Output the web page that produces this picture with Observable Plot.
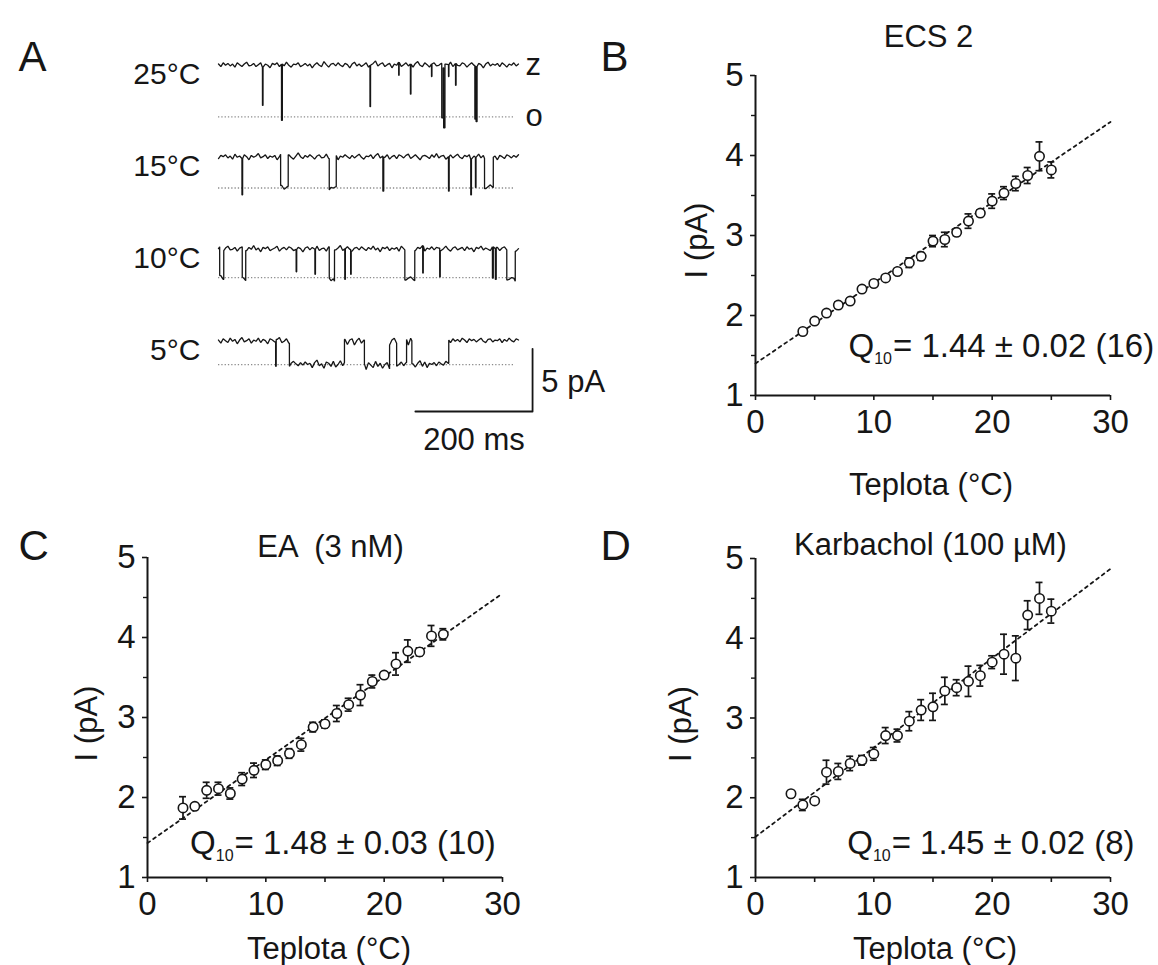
<!DOCTYPE html>
<html><head><meta charset="utf-8">
<script src="https://cdn.jsdelivr.net/npm/d3@7"></script>
<script src="https://cdn.jsdelivr.net/npm/@observablehq/plot@0.6"></script>
<style>
body{margin:0;background:#fff;}
#fig{position:relative;width:1158px;height:965px;overflow:hidden;background:#fff;}
#fig > div{position:absolute;}
</style></head><body><div id="fig">
<div id="pA" style="left:0;top:0;width:580px;height:480px"></div>
<div id="pB" style="left:590px;top:0;width:568px;height:500px"></div>
<div id="pC" style="left:0;top:480px;width:580px;height:485px"></div>
<div id="pD" style="left:590px;top:480px;width:568px;height:485px"></div>
</div>
<script>
// ---------------- DATA ----------------
// Panel A: single-channel traces (pA relative to closed level; negative = open)
const traceLabels = ["25°C", "15°C", "10°C", "5°C"];
const openLevel = [-4.12, -2.45, -2.26, -1.86];
const sampleMs = 4;
const traceMs = 512;
// events: [start ms, end ms, level pA]
const events25 = [[75,76,-3.2],[107.5,109,-4.4],[258.5,259.5,-3.3],[307.5,308.3,-0.8],[327.5,328.5,-2.3],[363.5,364.3,-0.9],[381,383.5,-4.2],[384.2,386.5,-5.0],[392.5,393.3,-0.9],[404.5,405.5,-1.6],[437.5,439,-4.3],[439.6,441.3,-4.5]];
const events15 = [[40,41.2,-3.0],[106,119,-2.5],[189,201,-2.5],[280.5,282,-2.7],[392.5,393.7,-2.7],[430.5,431.7,-3.0],[438.5,439.5,-2.4],[454,469,-2.4]];
const events10 = [[2,9,-2.3],[40.5,46.5,-2.4],[132.5,133.5,-1.8],[164.5,165.5,-2.0],[189,198,-2.5],[215.5,216.5,-2.4],[225.5,226.5,-2.0],[318,335,-2.4],[348.5,349.5,-1.9],[377.5,378.5,-2.2],[467.5,469,-2.3],[472.5,474,-2.4],[492,506.5,-2.4]];
const events5 = [[97.5,98.5,-2.0],[121,215,-1.85],[249,292,-1.9],[304,321,-1.85],[330,393,-1.85]];
// recording noise (pA, every 4 ms)
const noise25 = [0.1,-0.1,0.2,0,0.15,-0.05,0.1,-0.15,0.2,0.05,
 -0.1,0.1,0.25,-0.05,0,0.15,-0.1,0.05,0.2,-0.15,
 0.1,0,-0.2,0.15,0.05,0.2,-0.1,0.1,-0.05,0.25,
 0,-0.15,0.1,0.05,0.2,-0.1,0,0.15,-0.05,0.1,
 -0.2,0.05,0.2,0,-0.1,0.3,0.05,-0.15,0.1,0.15,
 -0.05,0.2,0,-0.1,0.15,0.05,-0.2,0.1,0.25,-0.05,
 0.1,-0.1,0.05,0.2,-0.15,0,0.15,0.35,-0.05,0.1,
 0.2,-0.1,0.05,0.15,-0.2,0.1,0,0.25,-0.1,0.05,
 0.2,-0.05,0.1,-0.15,0.15,0.3,0,-0.1,0.2,0.05,
 -0.15,0.1,0.2,-0.05,0,0.15,-0.2,0.1,0.05,0.25,
 -0.1,0.15,0,-0.05,0.2,0.1,-0.15,0.05,0.2,0,
 -0.1,0.15,0.05,-0.2,0.1,0.25,-0.05,0.1,0,0.15,
 -0.1,0.2,0.05,-0.15,0.1,0,0.2,-0.05,0.1];
const noise15 = [-0.1,0.15,0.05,0.2,-0.05,0.1,-0.15,0.25,0,0.1,
 -0.1,0.2,0.05,-0.2,0.15,0,0.1,0.3,-0.05,0.05,
 0.2,-0.1,0.1,0,0.15,-0.2,0.05,0.25,-0.05,0.1,
 0.2,0,-0.15,0.1,0.35,0.05,-0.1,0.15,0,0.2,
 0.05,-0.15,0.1,0.2,-0.05,0,0.25,-0.1,0.1,0.05,
 0.15,-0.2,0.1,0,0.2,0.05,-0.1,0.15,-0.05,0.1,
 0.25,0,-0.15,0.1,0.05,0.2,-0.1,0.15,0.3,-0.05,
 0.1,0,0.2,-0.15,0.05,0.15,-0.1,0.2,0.1,-0.05,
 0.15,0.25,-0.1,0.05,0.2,0,-0.2,0.1,0.15,0.05,
 -0.1,0.2,0,0.3,-0.05,0.1,0.15,-0.15,0.05,0.2,
 -0.05,0.1,0.25,0,-0.1,0.15,0.05,0.2,-0.15,0.1,
 0,0.25,-0.05,0.15,-0.1,0.05,0.2,0,0.1,-0.2,
 0.15,0.05,-0.1,0.2,0.1,-0.05,0.15,0,0.2];
const noise10 = [0.05,0.2,-0.1,0.1,0.25,-0.05,0,0.15,-0.15,0.1,
 0.2,0.05,-0.1,0.15,0,0.3,-0.05,0.1,-0.2,0.15,
 0.05,0.2,-0.1,0,0.1,0.25,-0.15,0.05,0.15,-0.05,
 0.2,0.1,-0.1,0,0.15,0.05,-0.2,0.1,0.2,-0.05,
 0.15,0,0.25,-0.1,0.05,0.1,-0.15,0.2,0,0.15,
 -0.05,0.1,0.3,-0.1,0.05,0.2,0,-0.15,0.1,0.15,
 -0.05,0.2,0.05,-0.1,0.15,0,0.25,-0.05,0.1,-0.2,
 0.15,0.05,0.2,-0.1,0.1,0,0.15,-0.15,0.25,0.05,
 -0.05,0.1,0.2,0,-0.1,0.15,0.05,0.3,-0.15,0.1,
 0,0.2,-0.05,0.15,0.1,-0.1,0.05,0.25,0,-0.15,
 0.1,0.2,-0.05,0.05,0.15,-0.1,0.2,0,0.1,-0.2,
 0.15,0.05,0.25,-0.05,0.1,0,-0.1,0.2,0.05,0.15,
 -0.1,0.1,0.2,-0.05,0,0.15,0.1,-0.15,0.05];
const noise5 = [0.1,-0.15,0.2,0.05,-0.1,0.25,0,0.15,-0.2,0.1,
 0.3,-0.05,0.05,0.2,-0.15,0.1,0,0.25,-0.1,0.15,
 0.05,-0.2,0.2,0.1,-0.05,0.15,0.3,-0.1,0,0.2,
 -0.15,0.1,0.25,0.05,-0.1,0.15,-0.05,0.2,0,0.1,
 -0.25,0.15,0.35,-0.1,0.05,-0.3,0.2,0.1,-0.15,0.25,
 -0.2,0,0.3,-0.1,0.15,-0.25,0.1,0.2,-0.3,0.05,
 0.25,-0.15,0.1,-0.35,0.2,0,-0.2,0.3,-0.1,0.15,
 -0.25,0.05,0.2,-0.3,0.1,0.25,-0.15,0,0.2,-0.1,
 0.15,-0.3,0.25,0.05,-0.2,0.1,0.3,-0.15,0.2,-0.25,
 0.1,0,0.15,-0.1,0.2,0.05,-0.05,0.25,0.1,-0.1,
 0.2,0,0.15,-0.05,0.25,0.1,-0.1,0.2,0.05,0.15,
 -0.05,0.1,0.25,0,-0.1,0.15,0.2,-0.05,0.1,0.05,
 0.2,-0.1,0.15,0,0.25,0.05,-0.05,0.2,0.1];
const scaleBarMs = 200, scaleBarPa = 5;

// Panels B–D: temperature (°C), current (pA), SEM (pA)
const tempsB = [4,5,6,7,8,9,10,11,12,13,14,15,16,17,18,19,20,21,22,23,24,25];
const currentB = [1.80,1.93,2.03,2.13,2.18,2.33,2.40,2.47,2.55,2.66,2.74,2.93,2.95,3.04,3.18,3.28,3.43,3.53,3.65,3.75,3.99,3.82];
const semB = [0.03,0.03,0.03,0.04,0.03,0.03,0.03,0.03,0.03,0.06,0.05,0.07,0.09,0.04,0.09,0.04,0.09,0.08,0.09,0.10,0.18,0.10];
const tempsC = [3,4,5,6,7,8,9,10,11,12,13,14,15,16,17,18,19,20,21,22,23,24,25];
const currentC = [1.87,1.89,2.09,2.11,2.05,2.23,2.34,2.41,2.46,2.55,2.66,2.88,2.92,3.05,3.16,3.28,3.45,3.53,3.67,3.83,3.82,4.02,4.04];
const semC = [0.14,0.03,0.10,0.08,0.07,0.08,0.09,0.06,0.06,0.06,0.08,0.06,0.05,0.10,0.08,0.13,0.08,0.03,0.14,0.14,0.05,0.13,0.07];
const tempsD = [3,4,5,6,7,8,9,10,11,12,13,14,15,16,17,18,19,20,21,22,23,24,25];
const currentD = [2.05,1.91,1.96,2.32,2.33,2.43,2.47,2.55,2.78,2.78,2.96,3.10,3.14,3.34,3.38,3.46,3.53,3.70,3.80,3.75,4.29,4.50,4.34];
const semD = [0.02,0.07,0.03,0.15,0.10,0.09,0.06,0.08,0.10,0.08,0.12,0.13,0.17,0.17,0.10,0.19,0.13,0.08,0.25,0.28,0.18,0.20,0.15];
// linear fits (dotted), evaluated at 0 and 30 °C
const fitTemps = [0, 30];
const fitB = [1.40, 4.42];
const fitC = [1.43, 4.55];
const fitD = [1.51, 4.87];
const titles = ["ECS 2", "EA  (3 nM)", "Karbachol (100 µM)"];
const q10Texts = ["Q10= 1.44 ± 0.02 (16)", "Q10= 1.48 ± 0.03 (10)", "Q10= 1.45 ± 0.02 (8)"];
const yTicks = [1, 2, 3, 4, 5], yMinor = [1.5, 2.5, 3.5, 4.5];
const xTicks = [0, 10, 20, 30], xMinor = [5, 15, 25];

// ---------------- DRAW ----------------
const FONT = '"Liberation Sans", Arial, Helvetica, sans-serif';
const INK = "#161616";

function buildTrace(label, noise, events) {
  const pts = [];
  noise.forEach((n, i) => {
    const t = i * sampleMs;
    if (events.some(([a, b]) => Math.abs(t - a) < 0.6 || Math.abs(t - b) < 0.6)) return;
    const ev = events.find(([a, b]) => t >= a && t <= b);
    pts.push({label, t, v: (ev ? ev[2] : 0) + n});
  });
  const nz = t => noise[Math.min(noise.length - 1, Math.round(t / sampleMs))];
  for (const [a, b, l] of events) {
    const brief = b - a < sampleMs;
    pts.push({label, t: a, v: nz(a)}, {label, t: a + 0.05, v: brief ? l : l + nz(a)},
             {label, t: b - 0.05, v: brief ? l : l + nz(b)}, {label, t: b, v: nz(b)});
  }
  return pts.sort((p, q) => p.t - q.t);
}
const tracePts = [
  ...buildTrace(traceLabels[0], noise25, events25),
  ...buildTrace(traceLabels[1], noise15, events15),
  ...buildTrace(traceLabels[2], noise10, events10),
  ...buildTrace(traceLabels[3], noise5, events5)
];
const openRows = traceLabels.map((label, i) => ({label, open: openLevel[i]}));
const barEndMs = 536, barBottom = -5.6;
const barPts = [
  {label: "5°C", t: barEndMs - scaleBarMs, v: barBottom},
  {label: "5°C", t: barEndMs, v: barBottom},
  {label: "5°C", t: barEndMs, v: barBottom + scaleBarPa}
];

const plotA = Plot.plot({
  width: 580, height: 480,
  marginLeft: 218, marginRight: 62, marginTop: 46, marginBottom: 66,
  x: {domain: [0, traceMs], axis: null},
  y: {domain: [-5.84, 1.5], axis: null},
  fy: {domain: traceLabels, padding: 0, axis: null},
  style: {fontFamily: FONT, fontSize: "31px", color: INK, background: "transparent", overflow: "visible"},
  marks: [
    Plot.ruleY(openRows, {fy: "label", y: "open", x1: 0, x2: 506, stroke: "#8c8c8c", strokeWidth: 1.3, strokeDasharray: "1.3,2"}),
    Plot.line(tracePts, {fy: "label", z: "label", x: "t", y: "v", stroke: INK, strokeWidth: 1.3, strokeLinejoin: "miter"}),
    Plot.text(traceLabels, {fy: d => d, text: d => d, x: -31, y: -0.75, textAnchor: "end", fontSize: 30, fill: INK}),
    Plot.text([{label: "25°C", s: "z", v: 0}, {label: "25°C", s: "o", v: -4.07}], {fy: "label", text: "s", x: 524, y: "v", textAnchor: "start", fontSize: 31, fill: INK}),
    Plot.line(barPts, {fy: "label", x: "t", y: "v", stroke: INK, strokeWidth: 1.8}),
    Plot.text([`${scaleBarPa} pA`], {fy: () => "5°C", x: 551, y: barBottom + 2.33, textAnchor: "start", fontSize: 31, fill: INK}),
    Plot.text([`${scaleBarMs} ms`], {fy: () => "5°C", x: barEndMs - scaleBarMs / 2, y: -7.9, fontSize: 31, fill: INK}),
    Plot.text(["A"], {fy: () => "25°C", frameAnchor: "top-left", dx: -200, dy: -5, lineAnchor: "top", textAnchor: "start", fontSize: 42, fill: INK})
  ]
});
document.getElementById("pA").appendChild(plotA);

function scatterPanel(id, cfg) {
  const rows = cfg.temps.map((t, i) => ({t, v: cfg.vals[i], e: cfg.sem[i]}));
  const fitRows = fitTemps.map((t, i) => ({t, v: cfg.fit[i]}));
  const p = Plot.plot({
    width: cfg.width, height: cfg.height,
    marginLeft: cfg.ml, marginRight: cfg.mr, marginTop: cfg.mt, marginBottom: cfg.mb,
    x: {domain: [0, 30], label: null},
    y: {domain: [1, 5], label: null},
    style: {fontFamily: FONT, fontSize: "31px", color: INK, background: "transparent", overflow: "visible"},
    marks: [
      Plot.axisY({ticks: yTicks, tickSize: 5, tickPadding: 7, tickFormat: d => String(d), fontSize: 33, label: null, strokeWidth: 1.6}),
      Plot.axisY({ticks: yMinor, tickSize: 4, tickFormat: () => "", label: null, strokeWidth: 1.4}),
      Plot.axisX({ticks: xTicks, tickSize: 5, tickPadding: 9, tickFormat: d => String(d), fontSize: 33, label: null, strokeWidth: 1.6}),
      Plot.axisX({ticks: xMinor, tickSize: 5, tickFormat: () => "", label: null, strokeWidth: 1.6}),
      Plot.ruleX([0], {y1: 1, y2: 5, stroke: INK, strokeWidth: 2}),
      Plot.ruleY([1], {x1: 0, x2: 30, stroke: INK, strokeWidth: 2}),
      Plot.line(fitRows, {x: "t", y: "v", stroke: INK, strokeWidth: 1.8, strokeDasharray: "3,4"}),
      Plot.ruleX(rows, {x: "t", y1: d => d.v - d.e, y2: d => d.v + d.e, stroke: INK, strokeWidth: 1.7}),
      Plot.ruleY(rows, {y: d => d.v + d.e, x1: "t", x2: "t", insetLeft: -3.5, insetRight: -3.5, stroke: INK, strokeWidth: 1.7}),
      Plot.ruleY(rows, {y: d => d.v - d.e, x1: "t", x2: "t", insetLeft: -3.5, insetRight: -3.5, stroke: INK, strokeWidth: 1.7}),
      Plot.dot(rows, {x: "t", y: "v", r: 4.7, fill: "white", stroke: INK, strokeWidth: 1.6}),
      Plot.text([cfg.title], {frameAnchor: "top-left", dx: cfg.titleDx, dy: cfg.titleDy, textAnchor: "middle", lineAnchor: "middle", fontSize: 31, fill: INK}),
      Plot.text(["I (pA)"], {frameAnchor: "left", rotate: -90, dx: cfg.ylabDx, dy: cfg.ylabDy, textAnchor: "middle", lineAnchor: "middle", fontSize: 31, fill: INK}),
      Plot.text(["Teplota (°C)"], {frameAnchor: "bottom", dx: cfg.xlabDx, dy: cfg.xlabDy, textAnchor: "middle", lineAnchor: "middle", fontSize: 31, fill: INK}),
      Plot.text([cfg.q10], {x: cfg.qx, y: cfg.qy, textAnchor: "start", lineAnchor: "middle", fontSize: 33, fill: INK}),
      Plot.text([cfg.letter], {frameAnchor: "top-left", dx: cfg.letterDx, dy: cfg.letterDy, lineAnchor: "top", textAnchor: "start", fontSize: 42, fill: INK})
    ]
  });
  // subscript for Q10
  d3.select(p).selectAll("text").filter(function () { return this.textContent.startsWith("Q10="); })
    .each(function () {
      const rest = this.textContent.slice(4);
      const sel = d3.select(this);
      sel.text(null);
      sel.append("tspan").text("Q");
      sel.append("tspan").attr("font-size", 16).attr("dy", 7).text("10");
      sel.append("tspan").attr("dy", -7).attr("dx", 1).text("=" + rest);
    });
  document.getElementById(id).appendChild(p);
}

scatterPanel("pB", {width: 568, height: 500, ml: 165, mr: 48, mt: 75, mb: 105,
  temps: tempsB, vals: currentB, sem: semB, fit: fitB, title: titles[0], q10: q10Texts[0], letter: "B",
  titleDx: 173, titleDy: -38, ylabDx: -58, ylabDy: 5, xlabDx: -2, xlabDy: 90, qx: 7.86, qy: 1.61, letterDx: -155, letterDy: -34});
scatterPanel("pC", {width: 580, height: 485, ml: 147, mr: 78, mt: 77, mb: 88,
  temps: tempsC, vals: currentC, sem: semC, fit: fitC, title: titles[1], q10: q10Texts[1], letter: "C",
  titleDx: 183, titleDy: -10, ylabDx: -60, ylabDy: 6, xlabDx: 4, xlabDy: 72, qx: 3.6, qy: 1.425, letterDx: -129, letterDy: -27});
scatterPanel("pD", {width: 568, height: 485, ml: 165, mr: 48, mt: 78, mb: 88,
  temps: tempsD, vals: currentD, sem: semD, fit: fitD, title: titles[2], q10: q10Texts[2], letter: "D",
  titleDx: 175, titleDy: -13, ylabDx: -74, ylabDy: 6, xlabDx: 2, xlabDy: 72, qx: 7.75, qy: 1.425, letterDx: -155, letterDy: -28});
</script></body></html>
